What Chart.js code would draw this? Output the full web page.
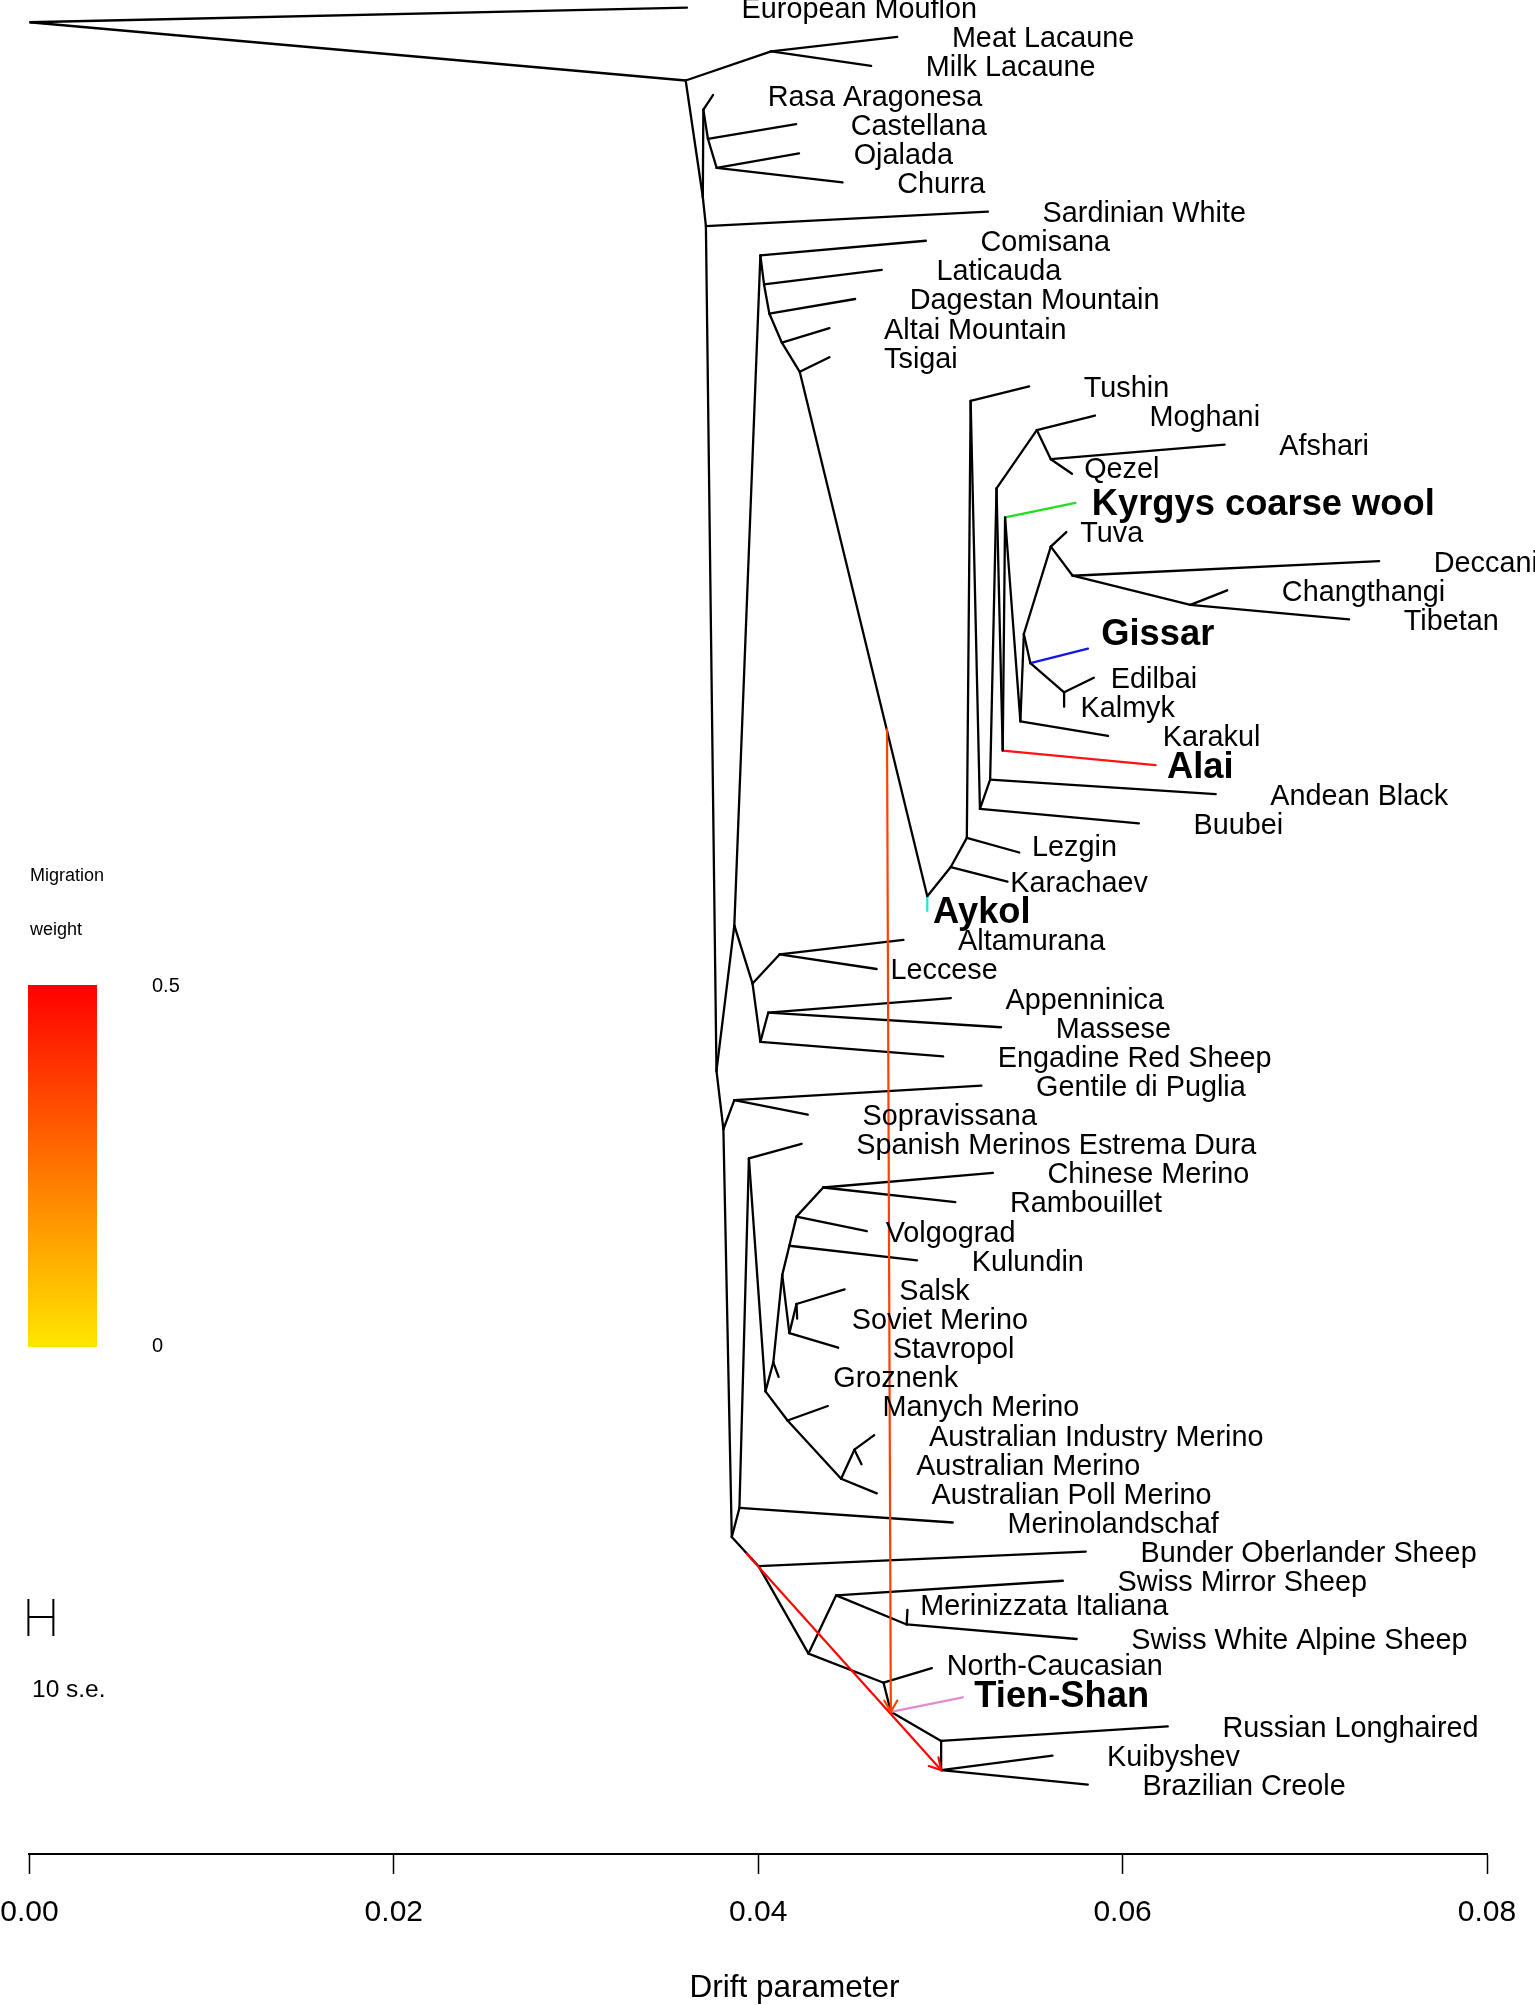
<!DOCTYPE html>
<html>
<head>
<meta charset="utf-8">
<script src="https://cdn.jsdelivr.net/npm/chart.js@4/dist/chart.umd.min.js"></script>
<style>
html,body{margin:0;padding:0;background:#fff;}
#wrap{width:1535px;height:2005px;position:relative;}
canvas{display:block;}
</style>
</head>
<body>
<div id="wrap"><canvas id="c" width="1535" height="2005" style="width:1535px;height:2005px"></canvas></div>
<script>
// ---------------- DATA ----------------
// Tips in plotting order (y = index)
const tipNames = ["European Mouflon","Meat Lacaune","Milk Lacaune","Rasa Aragonesa","Castellana","Ojalada","Churra","Sardinian White","Comisana","Laticauda","Dagestan Mountain","Altai Mountain","Tsigai","Tushin","Moghani","Afshari","Qezel","Kyrgys coarse wool","Tuva","Deccani","Changthangi","Tibetan","Gissar","Edilbai","Kalmyk","Karakul","Alai","Andean Black","Buubei","Lezgin","Karachaev","Aykol","Altamurana","Leccese","Appenninica","Massese","Engadine Red Sheep","Gentile di Puglia","Sopravissana","Spanish Merinos Estrema Dura","Chinese Merino","Rambouillet","Volgograd","Kulundin","Salsk","Soviet Merino","Stavropol","Groznenk","Manych Merino","Australian Industry Merino","Australian Merino","Australian Poll Merino","Merinolandschaf","Bunder Oberlander Sheep","Swiss Mirror Sheep","Merinizzata Italiana","Swiss White Alpine Sheep","North-Caucasian","Tien-Shan","Russian Longhaired","Kuibyshev","Brazilian Creole"];
// Drift position of each tip
const tipDrift = [0.03609,0.04763,0.04620,0.03752,0.04208,0.04224,0.04463,0.05261,0.04920,0.04678,0.04532,0.04391,0.04391,0.05487,0.05848,0.06560,0.05722,0.05741,0.05691,0.07408,0.06574,0.07243,0.05810,0.05842,0.05679,0.05920,0.06181,0.06511,0.06089,0.05433,0.05368,0.04928,0.04797,0.04650,0.05057,0.05333,0.05015,0.05225,0.04272,0.04238,0.05288,0.05082,0.04596,0.04872,0.04474,0.04214,0.04439,0.04112,0.04382,0.04637,0.04567,0.04651,0.05068,0.05798,0.05672,0.04819,0.05748,0.04953,0.05123,0.06248,0.05615,0.05809];
// Internal nodes n0..n60
const nodeDrift = [0.0,0.03602,0.04071,0.03696,0.03699,0.03724,0.03772,0.03713,0.04012,0.04032,0.04061,0.04130,0.04228,0.05166,0.05529,0.05606,0.05308,0.05355,0.05606,0.05726,0.06372,0.05458,0.05494,0.05679,0.05439,0.05342,0.05273,0.05217,0.05145,0.05057,0.04928,0.03869,0.04117,0.03969,0.04055,0.04012,0.03771,0.03869,0.03809,0.03949,0.04357,0.04210,0.04171,0.04132,0.04210,0.04171,0.04083,0.04040,0.04161,0.04528,0.04455,0.03897,0.03855,0.04002,0.04428,0.04815,0.04276,0.04688,0.04728,0.05004,0.05004];
const nodeY = [0.5,2.5,1.5,6.5,3.5,4.5,5.5,7.5,8.5,9.5,10.5,11.5,12.5,13.5,14.5,15.5,16.5,17.5,18.5,19.5,20.5,21.5,22.5,23.5,24.5,25.5,26.5,27.5,28.5,29.5,30.5,31.5,32.5,33.5,34.5,35.5,36.5,37.5,38.5,39.5,40.5,41.5,42.5,43.5,44.5,45.5,46.5,47.5,48.5,49.5,50.5,51.5,52.5,53.5,54.5,55.5,56.5,57.5,58.5,59.5,60.5];
// Tree edges: [parent, child]
const edges = [
["n0","European Mouflon"],["n0","n1"],
["n1","n2"],["n1","n3"],
["n2","Meat Lacaune"],["n2","Milk Lacaune"],
["n3","n4"],["n3","n7"],
["n4","Rasa Aragonesa"],["n4","n5"],
["n5","Castellana"],["n5","n6"],
["n6","Ojalada"],["n6","Churra"],
["n7","Sardinian White"],["n7","n36"],
["n36","n31"],["n36","n38"],
["n31","n8"],["n31","n33"],
["n8","Comisana"],["n8","n9"],
["n9","Laticauda"],["n9","n10"],
["n10","Dagestan Mountain"],["n10","n11"],
["n11","Altai Mountain"],["n11","n12"],
["n12","Tsigai"],["n12","n30"],
["n30","Aykol"],["n30","n29"],
["n29","Karachaev"],["n29","n28"],
["n28","Lezgin"],["n28","n13"],
["n13","Tushin"],["n13","n27"],
["n27","Buubei"],["n27","n26"],
["n26","Andean Black"],["n26","n16"],
["n16","n14"],["n16","n25"],
["n14","Moghani"],["n14","n15"],
["n15","Afshari"],["n15","Qezel"],
["n25","Alai"],["n25","n17"],
["n17","Kyrgys coarse wool"],["n17","n24"],
["n24","Karakul"],["n24","n21"],
["n21","n18"],["n21","n22"],
["n18","Tuva"],["n18","n19"],
["n19","Deccani"],["n19","n20"],
["n20","Changthangi"],["n20","Tibetan"],
["n22","Gissar"],["n22","n23"],
["n23","Edilbai"],["n23","Kalmyk"],
["n33","n32"],["n33","n35"],
["n32","Altamurana"],["n32","Leccese"],
["n35","n34"],["n35","Engadine Red Sheep"],
["n34","Appenninica"],["n34","Massese"],
["n38","n37"],["n38","n52"],
["n37","Gentile di Puglia"],["n37","Sopravissana"],
["n52","n51"],["n52","n53"],
["n51","Merinolandschaf"],["n51","n39"],
["n39","Spanish Merinos Estrema Dura"],["n39","n47"],
["n47","n46"],["n47","n48"],
["n46","Groznenk"],["n46","n43"],
["n43","n42"],["n43","n45"],
["n42","n41"],["n42","Kulundin"],
["n41","n40"],["n41","Volgograd"],
["n40","Chinese Merino"],["n40","Rambouillet"],
["n45","n44"],["n45","Stavropol"],
["n44","Salsk"],["n44","Soviet Merino"],
["n48","Manych Merino"],["n48","n50"],
["n50","n49"],["n50","Australian Poll Merino"],
["n49","Australian Industry Merino"],["n49","Australian Merino"],
["n53","Bunder Oberlander Sheep"],["n53","n56"],
["n56","n54"],["n56","n57"],
["n54","Swiss Mirror Sheep"],["n54","n55"],
["n55","Merinizzata Italiana"],["n55","Swiss White Alpine Sheep"],
["n57","North-Caucasian"],["n57","n58"],
["n58","Tien-Shan"],["n58","n59"],
["n59","Russian Longhaired"],["n59","n60"],
["n60","Kuibyshev"],["n60","Brazilian Creole"]
];
// Migration edges
const migFromDrift = [0.04707, 0.03937];
const migFromY     = [24.77, 53.07];
const migToDrift   = [0.04728, 0.05004];
const migToY       = [58.5, 60.5];
const migWeight    = [0.36, 0.49];
// Axis / legend values
const xTicks = [0, 0.02, 0.04, 0.06, 0.08];
const legendTicks = [0, 0.5];
const se10 = 0.00137;
const xTitle = 'Drift parameter';

// ---------------- STYLE ----------------
const FONT = '"Liberation Sans", Arial, Helvetica, sans-serif';
const highlight = {"Kyrgys coarse wool":"#1ee01e","Gissar":"#1414e6","Alai":"#ff1414","Aykol":"#33dde6","Tien-Shan":"#e28cd0"};
const boldTips = new Set(["Kyrgys coarse wool","Gissar","Alai","Aykol","Tien-Shan"]);
const DEFAULT_GAP = 0.003;
const labelGap = {"Qezel":0.00067,"Kyrgys coarse wool":0.0009,"Tuva":0.00077,"Gissar":0.00073,"Edilbai":0.00093,"Kalmyk":0.0009,"Alai":0.00063,"Lezgin":0.0007,"Karachaev":0.00015,"Aykol":0.00032,"Leccese":0.00076,"Volgograd":0.00104,"Merinizzata Italiana":0.0007,"North-Caucasian":0.00082,"Tien-Shan":0.00063};
const labelDy = {"Gissar":-16.5,"Qezel":-6.5,"Lezgin":-6.5,"Merinizzata Italiana":-5,"North-Caucasian":-4,"Tien-Shan":-3};

function weightColor(w){
  const t = Math.max(0, Math.min(1, w / 0.5));
  const g = Math.round(230 * (1 - t));
  return 'rgb(255,' + g + ',0)';
}
function pos(name){
  if (/^n\d+$/.test(name)) {
    const k = +name.slice(1);
    return {x: nodeDrift[k], y: nodeY[k]};
  }
  const i = tipNames.indexOf(name);
  return {x: tipDrift[i], y: i};
}

const datasets = [];
for (let i = 0; i < migFromDrift.length; i++) {
  datasets.push({
    data: [{x: migFromDrift[i], y: migFromY[i]}, {x: migToDrift[i], y: migToY[i]}],
    showLine: true, borderColor: weightColor(migWeight[i]), borderWidth: 2.2,
    pointRadius: 0, tension: 0, borderCapStyle: 'round'
  });
}
edges.forEach(([p, c]) => {
  datasets.push({
    data: [pos(p), pos(c)],
    showLine: true, borderColor: highlight[c] || '#000', borderWidth: 2.3,
    pointRadius: 0, tension: 0, borderCapStyle: 'round', borderJoinStyle: 'round'
  });
});

const overlay = {
  id: 'overlay',
  afterDatasetsDraw(chart) {
    const {ctx, scales: {x, y}} = chart;
    ctx.save();
    // arrowheads
    for (let i = 0; i < migFromDrift.length; i++) {
      const x0 = x.getPixelForValue(migFromDrift[i]), y0 = y.getPixelForValue(migFromY[i]);
      const x1 = x.getPixelForValue(migToDrift[i]), y1 = y.getPixelForValue(migToY[i]);
      const a = Math.atan2(y1 - y0, x1 - x0);
      const L = 13, h = Math.PI / 6;
      ctx.strokeStyle = weightColor(migWeight[i]);
      ctx.lineWidth = 2.2;
      ctx.lineCap = 'round';
      ctx.beginPath();
      ctx.moveTo(x1 - L * Math.cos(a - h), y1 - L * Math.sin(a - h));
      ctx.lineTo(x1, y1);
      ctx.lineTo(x1 - L * Math.cos(a + h), y1 - L * Math.sin(a + h));
      ctx.stroke();
    }
    // tip labels
    ctx.fillStyle = '#000';
    ctx.textAlign = 'left';
    ctx.textBaseline = 'middle';
    tipNames.forEach((n, i) => {
      const bold = boldTips.has(n);
      ctx.font = bold ? ('bold 36.3px ' + FONT) : ('28.8px ' + FONT);
      const gap = (n in labelGap) ? labelGap[n] : DEFAULT_GAP;
      const px = x.getPixelForValue(tipDrift[i] + gap);
      const py = y.getPixelForValue(i) + 2.5 + (labelDy[n] || 0);
      ctx.fillText(n, px, py);
    });
    // axis title
    ctx.textAlign = 'center';
    ctx.font = '31.5px ' + FONT;
    ctx.fillText(xTitle, 794.5, 1988);
    ctx.textAlign = 'left';
    // migration weight legend
    ctx.font = '18px ' + FONT;
    ctx.fillText('Migration', 30, 876);
    ctx.fillText('weight', 30, 930);
    const top = 985, bot = 1347, lx = 28, lw = 69;
    const grad = ctx.createLinearGradient(0, bot, 0, top);
    for (let s = 0; s <= 10; s++) grad.addColorStop(s / 10, weightColor(legendTicks[1] * s / 10));
    ctx.fillStyle = grad;
    ctx.fillRect(lx, top, lw, bot - top);
    ctx.fillStyle = '#000';
    ctx.font = '20px ' + FONT;
    ctx.fillText(String(legendTicks[1]), 152, top + 1);
    ctx.fillText(String(legendTicks[0]), 152, bot - 1);
    // 10 s.e. bar
    const sx0 = x.getPixelForValue(0) - 1, sx1 = x.getPixelForValue(se10) - 1;
    ctx.strokeStyle = '#000';
    ctx.lineWidth = 2;
    ctx.lineCap = 'butt';
    ctx.beginPath();
    ctx.moveTo(sx0, 1617); ctx.lineTo(sx1, 1617);
    ctx.moveTo(sx0, 1599); ctx.lineTo(sx0, 1636);
    ctx.moveTo(sx1, 1599); ctx.lineTo(sx1, 1636);
    ctx.stroke();
    ctx.font = '24.5px ' + FONT;
    ctx.fillText('10 s.e.', 32, 1690);
    ctx.restore();
  }
};

Chart.defaults.font.family = FONT;
Chart.defaults.color = '#000';

new Chart(document.getElementById('c'), {
  type: 'scatter',
  data: {datasets},
  options: {
    responsive: false,
    animation: false,
    events: [],
    layout: {padding: {left: 29.4, right: 48, top: 0, bottom: 0}},
    plugins: {legend: {display: false}, tooltip: {enabled: false}},
    scales: {
      x: {
        type: 'linear', min: 0, max: 0.08, position: 'bottom',
        afterBuildTicks: (s) => { s.ticks = xTicks.map(v => ({value: v})); },
        ticks: {callback: (v) => Number(v).toFixed(2), font: {size: 30, family: FONT}, color: '#000', padding: 21, maxRotation: 0, autoSkip: false},
        grid: {drawOnChartArea: false, drawTicks: true, tickLength: 20, tickColor: '#000', tickWidth: 1.5, color: '#000'},
        border: {display: true, color: '#000', width: 2},
        title: {display: false},
        afterFit: (s) => { s.height = 151; s.paddingLeft = 0; s.paddingRight = 0; }
      },
      y: {type: 'linear', display: false, reverse: true, min: -0.264, max: 63.38}
    }
  },
  plugins: [overlay]
});
</script>
</body>
</html>
